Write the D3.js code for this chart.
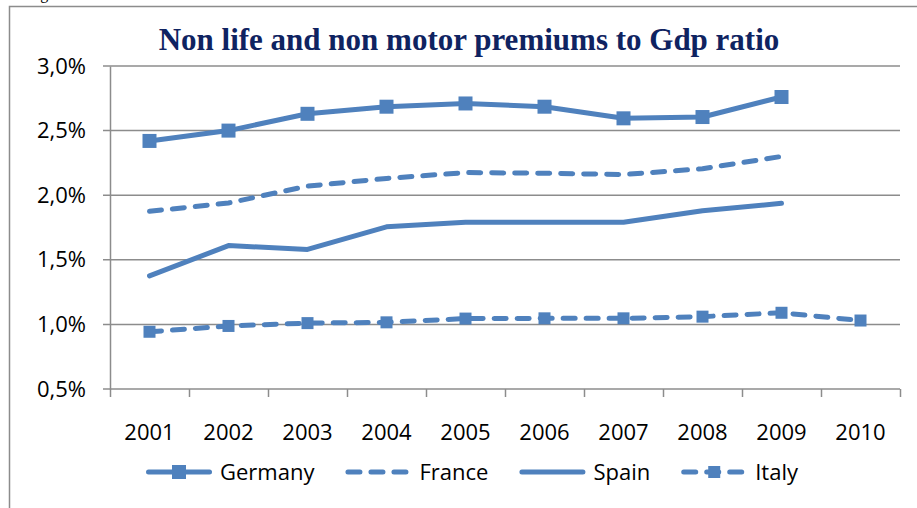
<!DOCTYPE html>
<html>
<head>
<meta charset="utf-8">
<script src="https://cdn.jsdelivr.net/npm/d3@7"></script>
<style>
  body { margin: 0; background: #fff; }
  svg { display: block; }
</style>
</head>
<body>
<svg id="chart" width="917" height="508"></svg>
<script>
var years = ['2001', '2002', '2003', '2004', '2005', '2006', '2007', '2008', '2009', '2010'];
var yTicks = [0.5, 1.0, 1.5, 2.0, 2.5, 3.0];

// values in percent of GDP, null where no data
var germany = [2.42, 2.50, 2.63, 2.685, 2.71, 2.685, 2.595, 2.605, 2.76, null];
var france  = [1.875, 1.94, 2.07, 2.13, 2.175, 2.17, 2.16, 2.205, 2.30, null];
var spain   = [1.375, 1.61, 1.58, 1.755, 1.79, 1.79, 1.79, 1.88, 1.937, null];
var italy   = [0.943, 0.988, 1.01, 1.016, 1.045, 1.047, 1.047, 1.06, 1.09, 1.03];

var series = [
  { name: 'Germany', values: germany, dash: null, marker: 14 },
  { name: 'France', values: france, dash: '12,11', marker: 0 },
  { name: 'Spain', values: spain, dash: null, marker: 0 },
  { name: 'Italy', values: italy, dash: '12,11', marker: 12 }
];

var blue = '#4f81bd',
    grid = '#8c8c8c',
    font = '"Open Sans", "DejaVu Sans", sans-serif';

var svg = d3.select('#chart');

// outer frame, and the caption above it (cut off by the page edge, as in the source)
svg.append('text')
  .attr('x', 27).attr('y', -1)
  .attr('font-family', '"Liberation Serif", serif')
  .attr('font-size', 16)
  .text('Figure');
svg.append('rect')
  .attr('x', 9.5).attr('y', 6.5)
  .attr('width', 1000).attr('height', 600)
  .attr('fill', 'none')
  .attr('stroke', grid)
  .attr('stroke-width', 1.5);

svg.append('text')
  .attr('x', 469).attr('y', 50)
  .attr('text-anchor', 'middle')
  .attr('font-family', '"Liberation Serif", "Times New Roman", serif')
  .attr('font-weight', 'bold')
  .attr('font-size', 31)
  .attr('fill', '#0f2361')
  .text('Non life and non motor premiums to Gdp ratio');

var x = d3.scaleBand().domain(years).range([110, 900]);
var xb = d3.scaleLinear().domain([0, years.length]).range([110, 900]);
var y = d3.scaleLinear().domain([0.5, 3.0]).range([389, 66]);

// horizontal gridlines with ticks on the left
svg.append('g')
  .selectAll('line')
  .data(yTicks)
  .enter().append('line')
    .attr('x1', 103).attr('x2', 900)
    .attr('y1', function(d) { return y(d); })
    .attr('y2', function(d) { return y(d); })
    .attr('stroke', grid)
    .attr('stroke-width', 1.5);

var yAxis = svg.append('g')
  .attr('transform', 'translate(110,0)')
  .call(d3.axisLeft(y).tickValues(yTicks).tickSize(0).tickPadding(24)
    .tickFormat(function(d) { return d.toFixed(1).replace('.', ',') + '%'; }));
yAxis.select('.domain').attr('stroke', grid).attr('stroke-width', 1.5);
yAxis.selectAll('text')
  .attr('font-family', font)
  .attr('font-size', 22)
  .attr('fill', '#000');

// category boundary ticks under the axis
var xTicks = svg.append('g')
  .attr('transform', 'translate(0,389)')
  .call(d3.axisBottom(xb).ticks(years.length).tickSize(8).tickFormat(''));
xTicks.select('.domain').remove();
xTicks.selectAll('line').attr('stroke', grid).attr('stroke-width', 1.5);

var xAxis = svg.append('g')
  .attr('transform', 'translate(0,389)')
  .call(d3.axisBottom(x).tickSize(0).tickPadding(35));
xAxis.select('.domain').remove();
xAxis.selectAll('text')
  .attr('font-family', font)
  .attr('font-size', 22)
  .attr('fill', '#000');

var line = d3.line()
  .defined(function(d) { return d != null; })
  .x(function(d, i) { return x(years[i]) + x.bandwidth() / 2; })
  .y(function(d) { return y(d); });

series.forEach(function(s) {
  var g = svg.append('g');
  g.append('path')
    .datum(s.values)
    .attr('d', line)
    .attr('fill', 'none')
    .attr('stroke', blue)
    .attr('stroke-width', 5)
    .attr('stroke-linecap', 'round')
    .attr('stroke-linejoin', 'round')
    .attr('stroke-dasharray', s.dash);
  if (s.marker) {
    g.selectAll('rect')
      .data(s.values.map(function(v, i) { return { v: v, i: i }; })
        .filter(function(d) { return d.v != null; }))
      .enter().append('rect')
        .attr('x', function(d) { return x(years[d.i]) + x.bandwidth() / 2 - s.marker / 2; })
        .attr('y', function(d) { return y(d.v) - s.marker / 2; })
        .attr('width', s.marker)
        .attr('height', s.marker)
        .attr('fill', blue);
  }
});

// legend
var lx = 146, ly = 472;
series.forEach(function(s) {
  var g = svg.append('g');
  g.append('line')
    .attr('x1', lx + 2.5).attr('x2', lx + 63.5)
    .attr('y1', ly).attr('y2', ly)
    .attr('stroke', blue)
    .attr('stroke-width', 5)
    .attr('stroke-linecap', 'round')
    .attr('stroke-dasharray', s.dash);
  if (s.marker) {
    g.append('rect')
      .attr('x', lx + 33 - s.marker / 2).attr('y', ly - s.marker / 2)
      .attr('width', s.marker).attr('height', s.marker)
      .attr('fill', blue);
  }
  var t = g.append('text')
    .attr('x', lx + 74).attr('y', ly)
    .attr('dy', '0.35em')
    .attr('font-family', font)
    .attr('font-size', 22)
    .text(s.name);
  lx += 74 + t.node().getComputedTextLength() + 31;
});
</script>
</body>
</html>
